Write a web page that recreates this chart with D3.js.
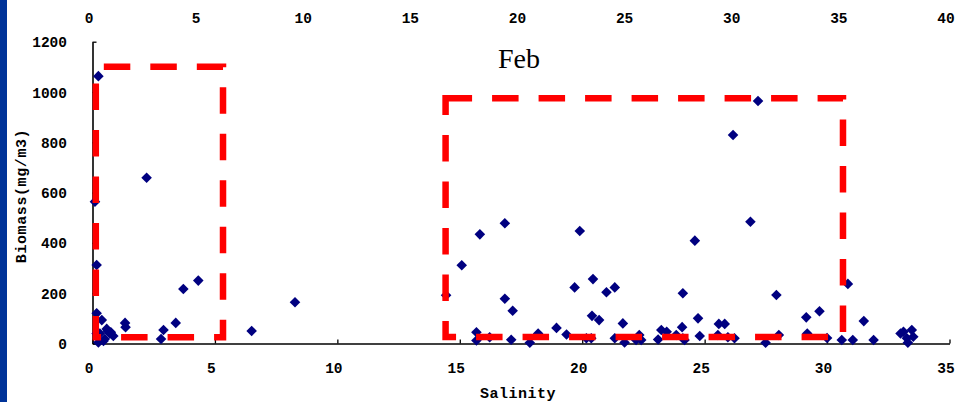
<!DOCTYPE html>
<html>
<head>
<meta charset="utf-8">
<script src="https://cdn.jsdelivr.net/npm/d3@7"></script>
<style>
  html, body { margin: 0; padding: 0; background: #fff; }
  svg { display: block; }
</style>
</head>
<body>
<svg id="chart" width="955" height="402"></svg>
<script>
// Surface salinity vs. zooplankton biomass, February survey
const salinity = [
  0.24, 0.10, 0.17, 2.21, 0.17, 0.38, 0.30, 0.58, 0.71, 0.85, 0.50, 0.24, 0.45,
  0.62, 0.75, 0.17, 1.33, 1.35, 2.80, 2.90, 3.40, 3.71, 4.32, 6.50, 8.27,
  14.44, 15.08, 15.82, 16.84, 16.84, 17.16, 15.68, 15.68, 16.22, 17.10, 17.86,
  18.20, 18.95, 19.36, 19.69, 19.90, 20.17, 20.37, 20.44, 20.40, 20.69, 20.99,
  21.33, 21.33, 21.66, 21.73, 22.20, 22.41, 22.33, 23.10, 23.23, 23.45, 23.84,
  24.08, 24.11, 24.11, 24.18, 24.60, 24.73, 24.80, 25.58, 25.82, 25.54, 25.95,
  26.22, 26.16, 27.18, 26.87, 27.49, 27.93, 28.03, 29.15, 29.69, 29.19, 30.00,
  30.60, 30.85, 31.05, 31.50, 31.90, 33.00, 33.12, 33.46, 33.26, 33.52, 33.30
];
const biomass = [
  1063, 564, 312, 659, 120, 93, 40, 58, 40, 30, 18, 4, 10,
  50, 45, 40, 82, 65, 18, 54, 82, 217, 250, 50, 164,
  192, 311, 434, 478, 178, 130, 45, 12, 25, 15, 3,
  40, 62, 36, 223, 447, 21, 21, 256, 110, 93, 204,
  223, 21, 80, 4, 14, 14, 34, 16, 54, 47, 34,
  65, 200, 21, 14, 409, 100, 30, 78, 78, 34, 25,
  21, 829, 964, 484, 3, 193, 34, 104, 128, 40, 22,
  14, 237, 14, 89, 14, 40, 47, 54, 21, 27, 3
];

// Highlighted salinity regimes (dashed boxes): [min, max] ranges
const boxSalinity = [[0.135, 5.33], [14.42, 30.65]];
const boxBiomass  = [[25, 1100], [26, 975]];

const salinityTicks    = [0, 5, 10, 15, 20, 25, 30, 35];
const topSalinityTicks = [0, 5, 10, 15, 20, 25, 30, 35, 40];
const biomassTicks     = [0, 200, 400, 600, 800, 1000, 1200];

const titleText = "Feb";
const xTitle = "Salinity";
const yTitle = "Biomass(mg/m3)";

const svg = d3.select("#chart");

// left accent strip
svg.append("rect")
  .attr("x", 0).attr("y", 0)
  .attr("width", 7).attr("height", 402)
  .attr("fill", "#003399");

const x = d3.scaleLinear().domain([0, 35]).range([92.5, 949.5]);
const xTop = d3.scaleLinear().domain([0, 40]).range([92.5, 949.5]);
const y = d3.scaleLinear().domain([0, 1200]).range([343.5, 41.7]);

const tickFont = "'Liberation Mono', 'Courier New', monospace";
const plain = d3.format("d");

// bottom axis
const gx = svg.append("g")
  .attr("transform", `translate(0,${y(0)})`)
  .call(d3.axisBottom(x).tickValues(salinityTicks).tickFormat(plain)
    .tickSizeInner(-4).tickSizeOuter(0));
gx.selectAll("text")
  .attr("y", 24.5).attr("dy", "0.35em").attr("dx", -4);

// left axis
const gy = svg.append("g")
  .attr("transform", `translate(${x(0)},0)`)
  .call(d3.axisLeft(y).tickValues(biomassTicks).tickFormat(plain)
    .tickSizeInner(-4).tickSizeOuter(0).tickPadding(25.5));
gy.selectAll("text").attr("dy", "0.35em");

// top axis (labels only)
const gt = svg.append("g")
  .call(d3.axisTop(xTop).tickValues(topSalinityTicks).tickFormat(plain).tickSize(0));
gt.select(".domain").remove();
gt.selectAll("text")
  .attr("y", 18).attr("dy", "0.35em").attr("dx", -4);

svg.selectAll(".domain").attr("stroke", "#000").attr("stroke-width", 1.6);
svg.selectAll(".tick line").attr("stroke", "#000").attr("stroke-width", 1.3);
svg.selectAll(".tick text")
  .attr("fill", "#000")
  .style("font-family", tickFont)
  .style("font-size", "14.5px")
  .style("font-weight", "bold");

// data points
const diamond = d3.symbol().type(d3.symbolSquare).size(56);
svg.append("g")
  .selectAll("path")
  .data(d3.range(salinity.length))
  .join("path")
  .attr("d", diamond)
  .attr("transform", i => `translate(${x(salinity[i])},${y(biomass[i])}) rotate(45)`)
  .attr("fill", "#000080");

// dashed boxes around the two salinity regimes
const dashOffsets = [38.5, 0];
svg.append("g")
  .selectAll("path")
  .data(d3.range(boxSalinity.length))
  .join("path")
  .attr("d", i => {
    const p = d3.path();
    const x0 = x(boxSalinity[i][0]), x1 = x(boxSalinity[i][1]);
    const yT = y(boxBiomass[i][1]), yB = y(boxBiomass[i][0]);
    p.moveTo(x0, yT);
    p.lineTo(x1, yT);
    p.lineTo(x1, yB);
    p.lineTo(x0, yB);
    p.closePath();
    return p.toString();
  })
  .attr("fill", "none")
  .attr("stroke", "#ff0000")
  .attr("stroke-width", 6.5)
  .attr("stroke-dasharray", "26.5 20")
  .attr("stroke-dashoffset", i => dashOffsets[i])
  .attr("stroke-linejoin", "miter");

// titles
svg.append("text")
  .attr("x", 519).attr("y", 68)
  .attr("text-anchor", "middle")
  .style("font-family", "'Liberation Serif', 'Times New Roman', serif")
  .style("font-size", "28px")
  .text(titleText);

svg.append("text")
  .attr("x", 518).attr("y", 398)
  .attr("text-anchor", "middle")
  .style("font-family", tickFont)
  .style("font-size", "15px")
  .style("font-weight", "bold")
  .style("letter-spacing", "0.5px")
  .text(xTitle);

svg.append("text")
  .attr("transform", "translate(26,196) rotate(-90)")
  .attr("text-anchor", "middle")
  .style("font-family", tickFont)
  .style("font-size", "15px")
  .style("font-weight", "bold")
  .style("letter-spacing", "0.6px")
  .text(yTitle);
</script>
</body>
</html>
